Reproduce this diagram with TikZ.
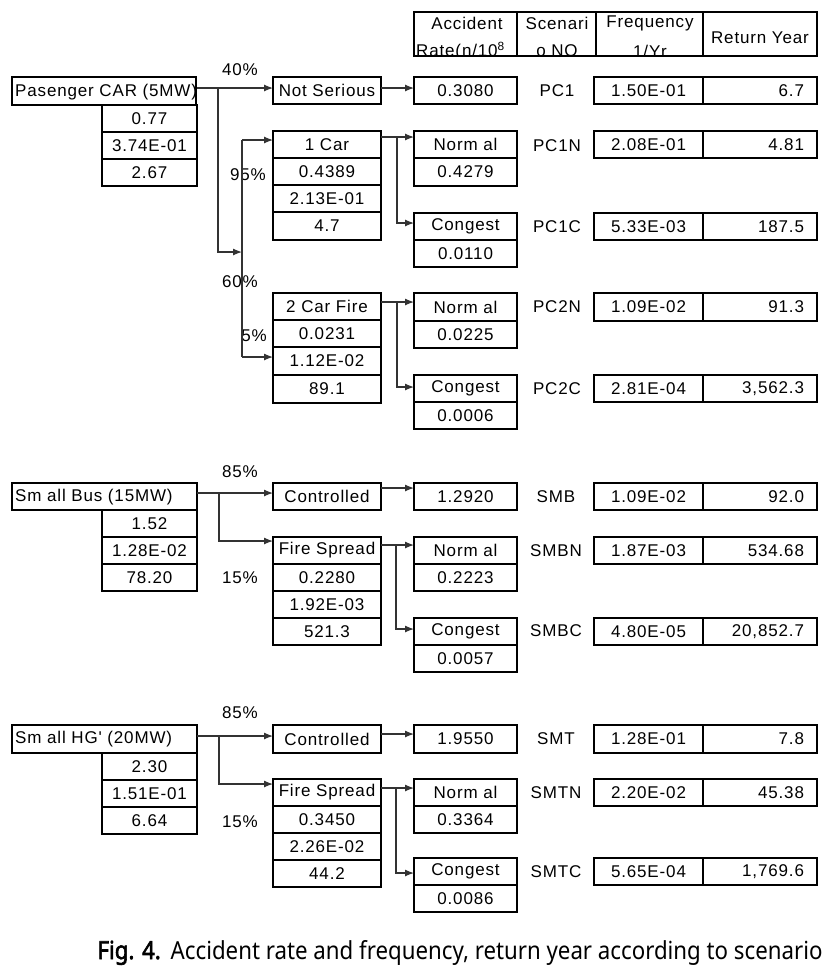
\documentclass[tikz,border=0pt]{standalone}
\usepackage{fontspec}
\usepackage{graphicx}
\usetikzlibrary{arrows.meta}
\newfontfamily\dfontfam[LetterSpace=5]{Liberation Sans}
\newfontfamily\capfont{Noto Sans}
\newfontfamily\capbold[FakeBold=2.5]{Noto Sans}
\newcommand\df{\dfontfam\fontsize{17}{20}\selectfont}
\tikzset{
  cell/.style={draw, line width=1.8pt, inner sep=0pt, outer sep=0pt, anchor=north west, font=\df},
  rcell/.style={cell, minimum width=114pt, text width=88pt, align=right},
  lbl/.style={inner sep=0pt, font=\df},
  conn/.style={draw=black!80, line width=1.2pt},
  arr/.style={conn, -{Latex[length=9pt,width=7pt]}}
}
\newcommand\cellat[6]{\node[cell, minimum width=#4pt, minimum height=#5pt] (#1) at (#2,#3) {#6};}
\newcommand\retat[4]{\node[rcell, minimum height=#3pt] (#1) at (703,#2) {#4};}
\begin{document}
\begin{tikzpicture}[x=1pt,y=-1pt]
\fill[white] (0,0) rectangle (838,975);
\useasboundingbox (0,0) rectangle (838,975);

% ---------- header ----------
\begin{scope}
\clip (414,12) rectangle (517,56);
\node[lbl] (h1a) at (467,23) {Accident};
\node[lbl, anchor=west] (h1b) at (416,51) {Rate(n/10\textsuperscript{8}};
\end{scope}
\begin{scope}
\clip (517,12) rectangle (596,56);
\node[lbl] (h2a) at (557,23) {Scenari};
\node[lbl] (h2b) at (557,51) {o NO};
\end{scope}
\begin{scope}
\clip (596,12) rectangle (703,56);
\node[lbl] (h3a) at (650,23) {Frequency};
\node[lbl] (h3b) at (650,51) {1/Yr};
\end{scope}
\node[lbl] (h4) at (760,38) {Return Year};
\cellat{hc1}{414}{12}{103}{44}{}
\cellat{hc2}{517}{12}{79}{44}{}
\cellat{hc3}{596}{12}{107}{44}{}
\cellat{hc4}{703}{12}{114}{44}{}

% ---------- Section 1: passenger car ----------
\cellat{pc}{12}{77}{184}{28}{}
\node[lbl, anchor=west] (pct) at (15,92) {Pasenger CAR (5MW)};
\cellat{pca}{102}{105}{95}{27}{0.77}
\cellat{pcb}{102}{132}{95}{27}{3.74E-01}
\cellat{pcc}{102}{159}{95}{27}{2.67}

\cellat{ns}{273}{77}{108}{27}{Not Serious}
\cellat{r0}{414}{77}{103}{27}{0.3080}
\node[lbl] (s1) at (557,91) {PC1};
\cellat{f1}{594}{77}{109}{27}{1.50E-01}
\retat{y1}{77}{27}{6.7}

\cellat{cara}{273}{131}{108}{27}{1 Car}
\cellat{carb}{273}{158}{108}{27}{0.4389}
\cellat{carc}{273}{185}{108}{27}{2.13E-01}
\cellat{card}{273}{212}{108}{28}{4.7}

\cellat{n1a}{414}{131}{103}{27}{Norm al}
\cellat{n1b}{414}{158}{103}{28}{0.4279}
\node[lbl] (s2) at (557,146) {PC1N};
\cellat{f2}{594}{131}{109}{27}{2.08E-01}
\retat{y2}{131}{27}{4.81}

\cellat{c1a}{414}{213}{103}{27}{Congest}
\cellat{c1b}{414}{240}{103}{27}{0.0110}
\node[lbl] (s3) at (557,227) {PC1C};
\cellat{f3}{594}{213}{109}{27}{5.33E-03}
\retat{y3}{213}{27}{187.5}

\cellat{cfa}{273}{293}{108}{27}{2 Car Fire}
\cellat{cfb}{273}{320}{108}{27}{0.0231}
\cellat{cfc}{273}{347}{108}{28}{1.12E-02}
\cellat{cfd}{273}{375}{108}{28}{89.1}

\cellat{n2a}{414}{293}{103}{28}{Norm al}
\cellat{n2b}{414}{321}{103}{27}{0.0225}
\node[lbl] (s4) at (557,307) {PC2N};
\cellat{f4}{594}{293}{109}{28}{1.09E-02}
\retat{y4}{293}{28}{91.3}

\cellat{c2a}{414}{375}{103}{27}{Congest}
\cellat{c2b}{414}{402}{103}{27}{0.0006}
\node[lbl] (s5) at (557,389) {PC2C};
\cellat{f5}{594}{375}{109}{27}{2.81E-04}
\retat{y5}{375}{27}{3,562.3}

\node[lbl] (p40) at (240,70) {40\%};
\node[lbl] (p95) at (248,175) {95\%};
\node[lbl] (p60) at (240,282) {60\%};
\node[lbl] (p5) at (254,336) {5\%};

\coordinate (pcJ) at (218,88);
\coordinate (pcK) at (218,252);
\coordinate (pcV1) at (242,140);
\coordinate (pcV2) at (242,357);
\draw[arr] (pct.east |- pcJ) -- (ns.west |- pcJ);
\draw[arr] (pcJ) -- (pcK) -- (pcV1 |- pcK);
\draw[conn] (pcV1) -- (pcV2);
\draw[arr] (pcV1) -- (cara.west |- pcV1);
\draw[arr] (pcV2) -- (cfc.west |- pcV2);
\draw[arr] (ns.east |- pcJ) -- (r0.west |- pcJ);

\coordinate (k1J) at (397,137);
\coordinate (k1K) at (397,223);
\draw[arr] (cara.east |- k1J) -- (n1a.west |- k1J);
\draw[arr] (k1J) -- (k1K) -- (c1a.west |- k1K);
\coordinate (k2J) at (397,302);
\coordinate (k2K) at (397,387);
\draw[arr] (cfa.east |- k2J) -- (n2a.west |- k2J);
\draw[arr] (k2J) -- (k2K) -- (c2a.west |- k2K);

% ---------- Section 2: small bus ----------
\cellat{sb}{12}{483}{185}{27}{}
\node[lbl, anchor=west] (sbt) at (15,497) {Sm all Bus (15MW)};
\cellat{sba}{102}{510}{95}{27}{1.52}
\cellat{sbb}{102}{537}{95}{27}{1.28E-02}
\cellat{sbc}{102}{564}{95}{27}{78.20}

\cellat{bct}{273}{483}{108}{27}{Controlled}
\cellat{br0}{414}{483}{103}{27}{1.2920}
\node[lbl] (s6) at (556,497) {SMB};
\cellat{f6}{594}{483}{109}{27}{1.09E-02}
\retat{y6}{483}{27}{92.0}

\cellat{bfa}{273}{537}{108}{27}{Fire Spread}
\cellat{bfb}{273}{564}{108}{27}{0.2280}
\cellat{bfc}{273}{591}{108}{27}{1.92E-03}
\cellat{bfd}{273}{618}{108}{27}{521.3}

\cellat{bna}{414}{537}{103}{27}{Norm al}
\cellat{bnb}{414}{564}{103}{27}{0.2223}
\node[lbl] (s7) at (556,551) {SMBN};
\cellat{f7}{594}{537}{109}{27}{1.87E-03}
\retat{y7}{537}{27}{534.68}

\cellat{bca}{414}{618}{103}{27}{Congest}
\cellat{bcb}{414}{645}{103}{27}{0.0057}
\node[lbl] (s8) at (556,631) {SMBC};
\cellat{f8}{594}{618}{109}{27}{4.80E-05}
\retat{y8}{618}{27}{20,852.7}

\node[lbl] (b85) at (240,472) {85\%};
\node[lbl] (b15) at (240,578) {15\%};

\coordinate (sbJ) at (219,493);
\coordinate (sbK) at (219,541);
\draw[arr] (sb.east |- sbJ) -- (bct.west |- sbJ);
\draw[arr] (sbJ) -- (sbK) -- (bfa.west |- sbK);
\coordinate (bq) at (0,488);
\draw[arr] (bct.east |- bq) -- (br0.west |- bq);
\coordinate (bJ) at (396,545);
\coordinate (bK) at (396,629);
\draw[arr] (bfa.east |- bJ) -- (bna.west |- bJ);
\draw[arr] (bJ) -- (bK) -- (bca.west |- bK);

% ---------- Section 3: small HGV ----------
\cellat{hg}{12}{725}{185}{28}{}
\node[lbl, anchor=west] (hgt) at (15,739) {Sm all HG' (20MW)};
\cellat{hga}{102}{753}{95}{27}{2.30}
\cellat{hgb}{102}{780}{95}{27}{1.51E-01}
\cellat{hgc}{102}{807}{95}{27}{6.64}

\cellat{tct}{273}{725}{108}{28}{Controlled}
\cellat{tr0}{414}{725}{103}{28}{1.9550}
\node[lbl] (s9) at (556,739) {SMT};
\cellat{f9}{594}{725}{109}{28}{1.28E-01}
\retat{y9}{725}{28}{7.8}

\cellat{tfa}{273}{779}{108}{27}{Fire Spread}
\cellat{tfb}{273}{806}{108}{27}{0.3450}
\cellat{tfc}{273}{833}{108}{27}{2.26E-02}
\cellat{tfd}{273}{860}{108}{27}{44.2}

\cellat{tna}{414}{779}{103}{27}{Norm al}
\cellat{tnb}{414}{806}{103}{27}{0.3364}
\node[lbl] (s10) at (556,793) {SMTN};
\cellat{f10}{594}{779}{109}{27}{2.20E-02}
\retat{y10}{779}{27}{45.38}

\cellat{tca}{414}{858}{103}{27}{Congest}
\cellat{tcb}{414}{885}{103}{27}{0.0086}
\node[lbl] (s11) at (556,872) {SMTC};
\cellat{f11}{594}{858}{109}{27}{5.65E-04}
\retat{y11}{858}{27}{1,769.6}

\node[lbl] (t85) at (240,713) {85\%};
\node[lbl] (t15) at (240,822) {15\%};

\coordinate (hgJ) at (219,736);
\coordinate (hgK) at (219,784);
\draw[arr] (hg.east |- hgJ) -- (tct.west |- hgJ);
\draw[arr] (hgJ) -- (hgK) -- (tfa.west |- hgK);
\coordinate (tq) at (0,734);
\draw[arr] (tct.east |- tq) -- (tr0.west |- tq);
\coordinate (tJ) at (396,788);
\coordinate (tK) at (396,873);
\draw[arr] (tfa.east |- tJ) -- (tna.west |- tJ);
\draw[arr] (tJ) -- (tK) -- (tca.west |- tK);

% ---------- caption ----------
\node[anchor=base, inner sep=0pt] (cap) at (460,959)
  {\resizebox{725pt}{19pt}{{\capbold Fig. 4.} \capfont Accident rate and frequency, return year according to scenario}};
\end{tikzpicture}
\end{document}
